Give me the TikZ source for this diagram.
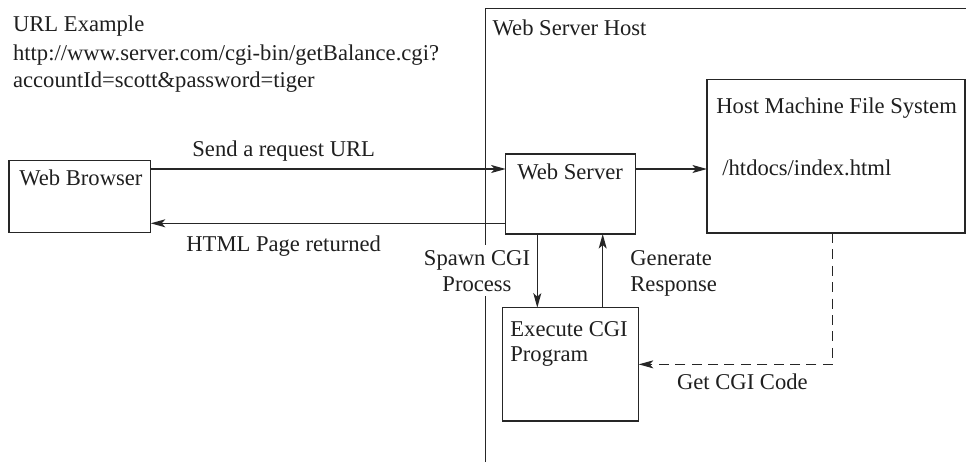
\documentclass[tikz,border=0pt]{standalone}
\usepackage{fontspec}
\setmainfont{Liberation Serif}
\usetikzlibrary{arrows.meta,calc}
\begin{document}
\begin{tikzpicture}[x=0.5pt,y=-0.5pt,
  every node/.style={font=\fontsize{11.3pt}{13.5pt}\selectfont, text=black!88},
  box/.style={draw=black!85, line width=0.65pt, rectangle, inner sep=0pt, outer sep=0pt},
  txt/.style={inner sep=0pt, anchor=base west},
  ctxt/.style={inner sep=2.4pt, anchor=base, fill=white},
  conn/.style={draw=black!85, line width=0.65pt},
  arr/.style={conn, -{Stealth[length=7.3pt,width=4pt,inset=1.8pt]}},
  dasharr/.style={arr, dash pattern=on 5pt off 3.2pt}]
\useasboundingbox (0,0) rectangle (966,462);
% Web Server Host boundary
\coordinate (hb) at (485.7,462);
\coordinate (ht) at (485.7,8.3);
\coordinate (hr) at (966,8.3);
\draw[conn] (hb) -- (ht) -- (hr);
% boxes
\node[box, minimum width=70.85pt, minimum height=36pt] (wb) at (79.85,196.7) {};
\node[box, minimum width=64.8pt, minimum height=40pt] (ws) at (570.5,194) {};
\node[box, minimum width=129pt, minimum height=76.85pt] (fs) at (836,156.15) {};
\node[box, minimum width=68pt, minimum height=56.65pt] (ex) at (570.7,364.35) {};
% texts
\node[txt] (u1) at (12.7,31.7) {URL Example};
\node[txt] (u2) at (12.7,60) {http://www.server.com/cgi-bin/getBalance.cgi?};
\node[txt] (u3) at (12.7,87.8) {accountId=scott\&password=tiger};
\node[txt] (hostlbl) at (492.3,35) {Web Server Host};
\node[txt] (wbt) at (19,185) {Web Browser};
\node[txt] (wst) at (517,179) {Web Server};
\node[txt] (fst) at (716,113.3) {Host Machine File System};
\node[txt] (fsf) at (722,175.7) {/htdocs/index.html};
\node[txt] (ex1) at (510,336.7) {Execute CGI};
\node[txt] (ex2) at (510,361.5) {Program};
\node[txt] (sendl) at (192,156) {Send a request URL};
\node[txt] (retl) at (186,251.7) {HTML Page returned};
\node[ctxt] (sp1) at (477,265) {Spawn CGI};
\node[ctxt] (sp2) at (477,291) {Process};
\node[txt] (gn1) at (630,265) {Generate};
\node[txt] (gn2) at (630,291) {Response};
\node[txt] (getl) at (676.7,389.3) {Get CGI Code};
% connectors
\coordinate (ys) at (0,169);
\coordinate (yr) at (0,223.3);
\coordinate (xsp) at (537.3,0);
\coordinate (xgn) at (602.7,0);
\coordinate (xd) at (832.7,0);
\draw[arr] (wb.east |- ys) -- (ws.west |- ys);
\draw[arr] (ws.west |- yr) -- (wb.east |- yr);
\draw[arr] (ws.east |- ys) -- (fs.west |- ys);
\draw[arr] (ws.south -| xsp) -- (ex.north -| xsp);
\draw[arr] (ex.north -| xgn) -- (ws.south -| xgn);
\draw[dasharr] (fs.south -| xd) |- (ex.east);
\end{tikzpicture}
\end{document}
